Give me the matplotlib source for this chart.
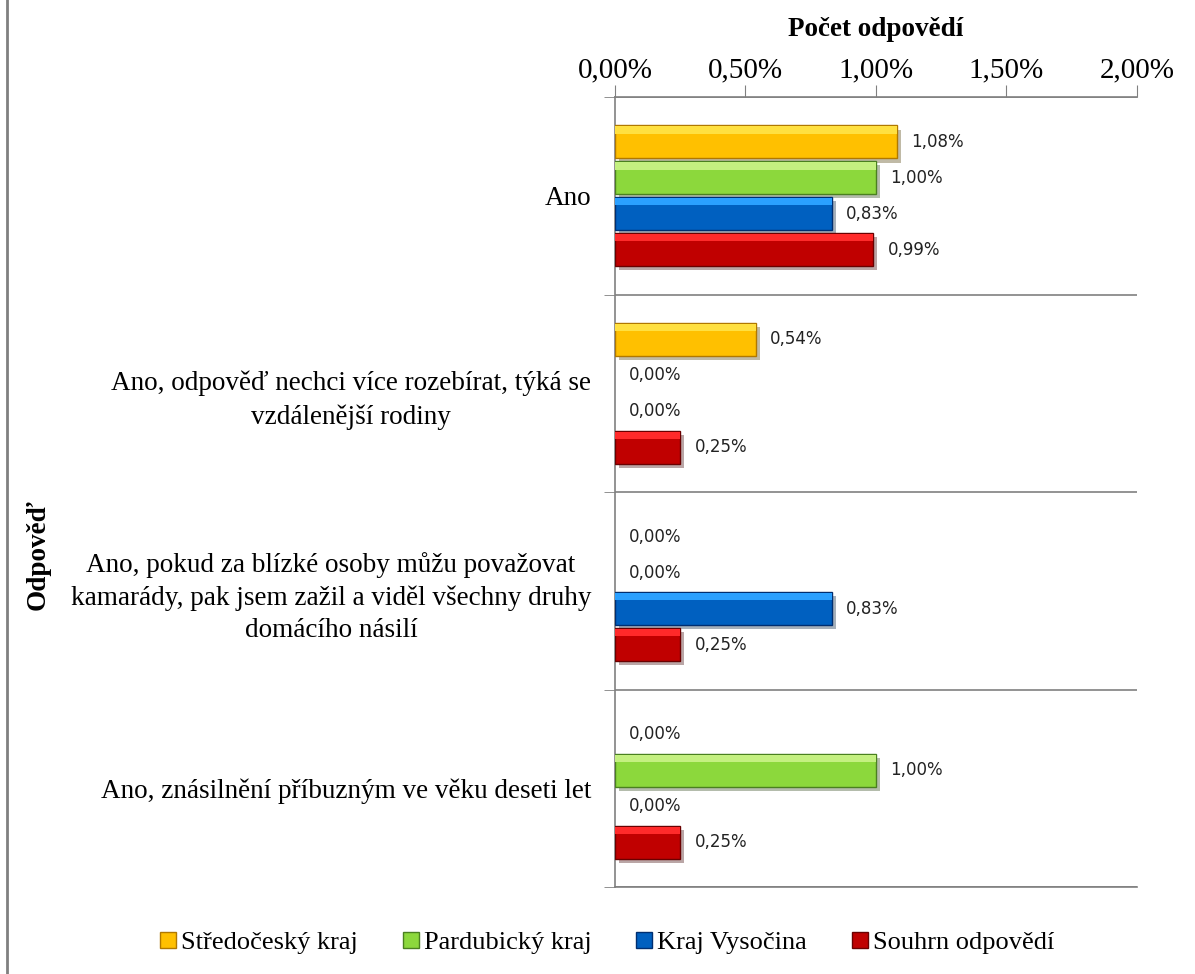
import numpy as np
import matplotlib.pyplot as plt
import matplotlib.patheffects as pe
from matplotlib.lines import Line2D

plt.rcParams['font.family'] = ['Liberation Serif', 'DejaVu Serif']

categories = [
    'Ano',
    'Ano, odpověď nechci více rozebírat, týká se\nvzdálenější rodiny',
    'Ano, pokud za blízké osoby můžu považovat\nkamarády, pak jsem zažil a viděl všechny druhy\ndomácího násilí',
    'Ano, znásilnění příbuzným ve věku deseti let',
]
series = ['Středočeský kraj', 'Pardubický kraj', 'Kraj Vysočina', 'Souhrn odpovědí']
stredocesky = [1.08, 0.54, 0.00, 0.00]
pardubicky = [1.00, 0.00, 0.00, 1.00]
vysocina = [0.83, 0.00, 0.83, 0.00]
souhrn = [0.99, 0.25, 0.25, 0.25]
values = [stredocesky, pardubicky, vysocina, souhrn]

# main, highlight, edge
colors = [('#FFC000', '#FFE040', '#B07800'),
          ('#8CD83C', '#C4F080', '#4A8020'),
          ('#0060C0', '#2AA0FF', '#002E70'),
          ('#C00000', '#FF2A2A', '#6A0000')]

fig = plt.figure(figsize=(11.95, 9.74), dpi=100)
ax = fig.add_axes([0.5146, 0.0893, 0.4368, 0.8111])

y = np.arange(len(categories))
step = 0.182
h = 0.167
shadow = [pe.SimplePatchShadow(offset=(3, -3), alpha=0.35), pe.Normal()]
for j, vals in enumerate(values):
    main, light, edge = colors[j]
    pos = y + (j - 1.5) * step
    bars = ax.barh(pos, vals, height=h, color=main, edgecolor=edge, linewidth=1.0, zorder=3)
    for b, v in zip(bars, vals):
        if v > 0:
            b.set_path_effects(shadow)
        else:
            b.set_linewidth(0)
    # bevel highlight on top of bar
    ax.barh(pos - h * 0.36, vals, height=h * 0.22, color=light, linewidth=0, zorder=4)
    for p, v in zip(pos, vals):
        ax.text(v + 0.055, p, f'{v:.2f}%'.replace('.', ','), va='center', ha='left',
                fontsize=12, family='DejaVu Sans', color='#222222', zorder=5)

ax.set_xlim(0, 2)
ax.set_ylim(3.5, -0.5)
ax.xaxis.tick_top()
ax.set_xticks([0, 0.5, 1.0, 1.5, 2.0])
ax.set_xticklabels(['0,00%', '0,50%', '1,00%', '1,50%', '2,00%'], fontsize=21)
ax.tick_params(axis='x', direction='out', length=9, color='#808080', pad=1)
ax.xaxis.set_label_position('top')
ax.set_xlabel('Počet odpovědí', fontsize=19.5, fontweight='bold', labelpad=15)

ax.set_yticks(y)
ax.set_yticklabels(categories, fontsize=19.5)
for t in ax.get_yticklabels():
    t.set_multialignment('center')
    t.set_linespacing(1.4)
ax.tick_params(axis='y', which='major', length=0, pad=17)
ax.set_yticks([-0.5, 0.5, 1.5, 2.5, 3.5], minor=True)
ax.tick_params(axis='y', which='minor', length=8, color='#808080', direction='out')
ax.grid(axis='y', which='minor', color='#808080', linewidth=1.2, zorder=0)

ax.spines['right'].set_visible(False)
for s in ['top', 'left', 'bottom']:
    ax.spines[s].set_color('#808080')
    ax.spines[s].set_linewidth(1.2)

fig.text(38 / 1195, 1 - 555 / 974, 'Odpověď', rotation=90, fontsize=19.5,
         fontweight='bold', ha='center', va='center')

fig.add_artist(Line2D([7 / 1195, 7 / 1195], [0, 1], color='#808080', linewidth=2))

handles = [Line2D([], [], marker='s', linestyle='', markersize=11,
                  markerfacecolor=c[0], markeredgecolor=c[2]) for c in colors]
fig.legend(handles, series, loc='center', bbox_to_anchor=(0.507, 1 - 942 / 974),
           ncol=4, frameon=False, fontsize=19, handletextpad=0.1, columnspacing=1.6,
           handlelength=0.8)

fig.savefig('out.png', dpi=100)
